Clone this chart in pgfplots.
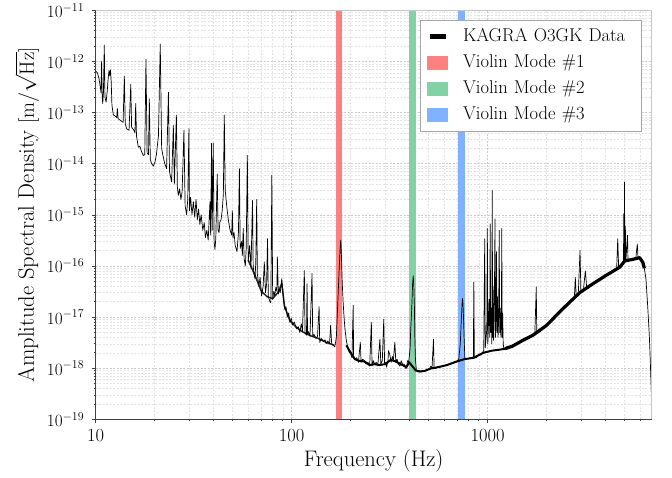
\documentclass[border=0pt]{standalone}
\usepackage{pgfplots}
\usepackage{pgfplotstable}
\pgfplotsset{compat=1.18}
\definecolor{vred}{RGB}{255,128,128}
\definecolor{vgreen}{RGB}{130,210,165}
\definecolor{vblue}{RGB}{128,178,255}

\pgfplotstableread{
f a
10.0 6.5e-13
10.2 6.0e-13
10.4 4.6e-13
10.55 3.2e-13
10.65 2.4e-13
10.72 1.0e-12
10.8 2.0e-13
10.86 1.5e-13
10.95 2.4e-13
11.06 2.1e-12
11.15 2.0e-13
11.3 1.6e-13
11.45 2.6e-13
11.6 5.0e-13
11.7 6.7e-13
11.8 5.2e-13
11.9 6.8e-13
12.0 4.0e-13
12.1 1.4e-13
12.3 9.0e-14
12.6 8.5e-14
12.8 8.0e-14
12.9 1.2e-13
13.0 7.6e-14
13.4 7.0e-14
13.8 6.4e-14
14.0 5.2e-13
14.15 6.0e-14
14.4 4.8e-14
14.8 4.5e-14
15.1 3.6e-13
15.25 5.2e-14
15.6 4.6e-14
15.86 4.0e-14
16.0 1.5e-13
16.15 3.5e-14
16.5 2.1e-14
16.8 2.2e-14
17.15 1.7e-14
17.5 1.45e-14
17.8 1.5e-14
18.05 1.1e-12
18.3 1.6e-14
18.6 1.5e-14
18.78 1.85e-13
19.0 1.2e-14
19.3 1.0e-14
19.7 9.0e-15
20.1 1.1e-14
20.4 1.5e-14
20.9 3.5e-14
21.35 2.2e-12
21.7 2.0e-14
22.0 1.5e-14
22.5 1.0e-14
23.0 8.0e-15
23.5 2.5e-13
23.8 7.0e-15
24.4 4.4e-15
24.9 5.6e-14
25.2 4.0e-15
25.8 8.9e-14
26.1 3.5e-15
26.4 2.4e-15
26.8 3.2e-15
27.2 2.0e-15
27.6 2.8e-15
28.2 4.5e-14
28.6 1.5e-15
29.1 1.0e-15
29.5 2.0e-15
29.9 4.8e-14
30.1 1.2e-15
30.5 2.2e-15
31.0 1.0e-15
31.5 1.8e-15
32.0 9.0e-16
32.5 2.0e-15
33.0 8.0e-16
33.5 1.3e-15
34.0 6.5e-16
34.5 1.0e-15
35.2 5.0e-16
35.8 7.0e-16
36.3 3.6e-16
36.9 5.0e-16
37.5 3.2e-16
38.3 1.8e-15
38.6 4.0e-16
39.0 2.5e-14
39.3 5.0e-16
39.8 2.5e-14
40.2 3.0e-16
40.6 2.1e-16
41.0 3.5e-16
41.7 6.3e-15
42.1 5.0e-16
42.6 4.5e-16
43.0 7.2e-16
43.6 8.0e-16
44.2 1.2e-15
44.8 2.5e-15
45.3 8.9e-14
45.8 3.0e-15
46.6 1.5e-15
47.5 8.0e-16
48.5 5.0e-16
49.4 4.0e-16
49.8 1.2e-15
50.2 3.5e-16
50.8 4.5e-16
51.5 2.5e-16
52.6 1.9e-16
53.5 4.5e-16
54.1 8.0e-15
54.6 2.2e-16
55.5 3.0e-16
56.0 1.6e-16
56.6 5.4e-16
57.2 1.4e-16
58.0 1.0e-16
58.6 2.2e-16
59.4 1.45e-14
60.0 1.2e-16
61.0 2.5e-16
62.0 9.0e-17
63.1 1.9e-15
63.6 1.0e-16
64.3 7.0e-17
65.0 5.6e-17
65.6 1.2e-16
66.3 2.0e-15
66.8 7.0e-17
68.0 4.0e-17
69.0 6.0e-17
70.2 2.6e-17
71.5 4.0e-17
72.5 1.2e-16
73.5 3.0e-17
74.5 4.5e-17
75.3 3.4e-16
76.0 2.5e-17
77.5 2.0e-17
78.3 1.9e-17
79.2 5.9e-15
80.0 2.2e-17
81.0 3.2e-17
82.0 2.6e-17
83.0 3.8e-17
84.0 3.2e-17
84.5 1.5e-16
85.5 2.8e-17
86.5 3.5e-17
87.4 3.0e-17
89.0 5.6e-17
90.0 3.5e-17
91.0 2.0e-17
92.3 1.4e-17
93.5 1.6e-17
95.0 1.0e-17
96.5 1.2e-17
97.9 7.9e-18
99.5 9.5e-18
101 7.0e-18
103 8.0e-18
106 5.9e-18
108 6.5e-18
110 5.0e-18
112 7.4e-18
113.5 5.2e-18
116 8.1e-17
117 5.0e-18
119 4.4e-18
119.8 4.5e-17
120.5 4.5e-18
122 5.2e-18
124 4.2e-18
127 7.1e-17
128 4.1e-18
130 4.6e-18
133 3.8e-18
135.5 4.2e-18
138 1.6e-17
139 3.2e-18
142 3.8e-18
145 3.3e-18
148 3.6e-18
150 3.0e-18
153 3.4e-18
156 3.0e-18
158 6.9e-18
160 3.0e-18
163 2.8e-18
166 2.6e-18
169 4.0e-18
172 2.0e-17
175 1.0e-16
177 2.5e-16
178 3.2e-16
179.5 1.5e-16
181 5.0e-17
183 2.0e-17
185 1.0e-17
187 5.9e-18
190 3.5e-18
194 2.4e-18
197 2.0e-18
200 2.0e-18
203 1.6e-18
206 1.7e-17
207 1.7e-18
210 1.5e-18
215 1.6e-18
219 1.3e-18
224 3.2e-18
226 1.3e-18
230 1.5e-18
235 1.4e-18
240 1.2e-18
245 1.3e-18
250 1.1e-18
255 7.9e-18
257 1.1e-18
261 1.4e-18
265 1.2e-18
270 1.3e-18
275 1.1e-18
282 3.7e-18
285 1.2e-18
290 1.4e-18
295 9.1e-18
298 1.2e-18
302 1.3e-18
305 1.05e-18
310 1.4e-18
312 2.2e-18
317 1.8e-18
322 1.3e-18
326 1.7e-18
330 1.4e-18
336 3.2e-18
340 1.3e-18
345 1.5e-18
350 1.2e-18
357 1.1e-18
362 1.4e-18
368 1.2e-18
375 1.2e-18
380 1.0e-18
386 1.0e-18
390 1.4e-18
395 1.3e-18
399 1.8e-18
402 2.5e-18
405 6.0e-18
408 1.0e-17
411 2.0e-17
414 4.5e-17
417 6.4e-17
420 4.0e-17
423 1.5e-17
425 4.0e-18
428 1.5e-18
433 8.9e-19
440 8.5e-19
447 9.0e-19
455 8.4e-19
465 8.8e-19
475 8.6e-19
485 9.2e-19
495 9.4e-19
505 9.5e-19
512 1.1e-18
520 1.0e-18
529 3.7e-18
533 1.0e-18
545 1.0e-18
560 1.05e-18
575 1.05e-18
590 1.1e-18
610 1.15e-18
630 1.2e-18
650 1.25e-18
670 1.3e-18
695 1.35e-18
712 1.5e-18
725 3.0e-18
733 8.0e-18
740 1.8e-17
744 2.3e-17
748 1.9e-17
753 1.0e-17
758 4.0e-18
765 1.6e-18
778 1.5e-18
800 1.55e-18
825 1.6e-18
845 1.6e-18
850 4.8e-17
855 1.6e-18
877 1.6e-18
895 1.8e-18
910 1.9e-18
925 1.8e-18
940 2.0e-18
955 2.2e-18
966 3.4e-16
972 2.5e-18
982 4.0e-18
990 6.0e-18
996 5.4e-16
1002 3.0e-18
1010 8.0e-18
1018 2.2e-17
1025 4.0e-18
1030 6.6e-16
1036 5.0e-18
1043 1.5e-17
1049 3.0e-18
1055 3.0e-15
1060 4.0e-18
1066 4.0e-17
1072 3.5e-18
1080 9.0e-18
1090 8.3e-16
1096 4.0e-18
1103 1.0e-17
1110 1.9e-16
1116 5.0e-18
1122 2.5e-17
1130 4.0e-18
1138 1.0e-17
1145 5.0e-16
1152 5.0e-18
1160 1.5e-17
1168 4.0e-18
1175 8.0e-18
1180 5.4e-16
1186 4.0e-18
1192 1.2e-17
1200 3.0e-18
1210 2.4e-18
1225 2.4e-18
1260 2.7e-18
1300 2.6e-18
1340 2.8e-18
1380 3.0e-18
1420 3.0e-18
1465 3.4e-18
1510 3.5e-18
1555 3.8e-18
1600 3.9e-18
1650 4.2e-18
1700 4.4e-18
1740 4.5e-18
1770 3.9e-17
1780 4.7e-18
1850 5.2e-18
1920 6.0e-18
2000 6.9e-18
2080 8.0e-18
2160 9.5e-18
2240 1.1e-17
2330 1.26e-17
2420 1.45e-17
2520 1.7e-17
2620 1.95e-17
2700 2.2e-17
2770 2.45e-17
2800 6.0e-17
2830 2.6e-17
2900 2.9e-17
2960 2.0e-16
2990 3.1e-17
3080 3.4e-17
3150 8.0e-17
3200 3.8e-17
3320 4.1e-17
3450 4.5e-17
3600 5.0e-17
3760 5.6e-17
3900 6.1e-17
4010 6.5e-17
4200 7.2e-17
4400 8.0e-17
4550 8.6e-17
4610 3.4e-16
4660 9.0e-17
4730 9.5e-17
4850 1.05e-16
4930 1.17e-16
4950 1.05e-15
4970 1.3e-16
4990 4.4e-15
5010 1.3e-16
5040 6.0e-16
5070 1.25e-16
5170 4.0e-16
5200 1.25e-16
5350 1.3e-16
5530 1.35e-16
5700 1.4e-16
5800 2.7e-16
5850 1.42e-16
5960 1.45e-16
6080 1.3e-16
6190 1.17e-16
6300 9.0e-17
6420 5.6e-17
6550 1.7e-17
6680 4.4e-18
6760 1.3e-18
6850 3.0e-19
}\asddata

\pgfplotstableread{
f a
60 1.3e-16
65 6.5e-17
70 3.2e-17
75 2.5e-17
80 2.3e-17
85 3.0e-17
89 4.5e-17
92 1.6e-17
98 8.5e-18
106 6.2e-18
115 5.0e-18
125 4.3e-18
135 3.9e-18
150 3.2e-18
165 2.8e-18
}\bandmid

\pgfplotstableread{
f a
190 2.8e-18
200 2.0e-18
210 1.5e-18
220 1.4e-18
235 1.35e-18
250 1.15e-18
265 1.2e-18
280 1.15e-18
300 1.2e-18
320 1.45e-18
340 1.35e-18
360 1.2e-18
385 1.05e-18
398 1.3e-18
430 9.0e-19
450 8.6e-19
480 8.9e-19
510 9.8e-19
560 1.05e-18
620 1.15e-18
695 1.35e-18
760 1.5e-18
850 1.6e-18
950 2.0e-18
1050 2.2e-18
1150 2.3e-18
1225 2.4e-18
}\bandlow

\pgfplotstableread{
f a
1225 2.4e-18
1340 2.7e-18
1510 3.5e-18
1700 4.4e-18
2000 6.9e-18
2330 1.26e-17
2620 1.95e-17
2950 3.0e-17
3450 4.5e-17
4010 6.5e-17
4730 9.5e-17
5000 1.25e-16
5530 1.35e-16
5960 1.45e-16
6190 1.17e-16
6300 9.0e-17
}\bandhigh

\begin{document}
\begin{tikzpicture}
\begin{axis}[
  name=ax,
  scale only axis, width=556bp, height=409bp,
  xmode=log, ymode=log,
  xmin=10, xmax=6870, ymin=1e-19, ymax=1e-11,
  xtick={10,100,1000}, xticklabels={10,100,1000},
  minor xtick={20,30,40,50,60,70,80,90,200,300,400,500,600,700,800,900,2000,3000,4000,5000,6000},
  ytick={1e-19,1e-18,1e-17,1e-16,1e-15,1e-14,1e-13,1e-12,1e-11},
  minor ytick={2e-19,3e-19,4e-19,5e-19,6e-19,7e-19,8e-19,9e-19,
               2e-18,3e-18,4e-18,5e-18,6e-18,7e-18,8e-18,9e-18,
               2e-17,3e-17,4e-17,5e-17,6e-17,7e-17,8e-17,9e-17,
               2e-16,3e-16,4e-16,5e-16,6e-16,7e-16,8e-16,9e-16,
               2e-15,3e-15,4e-15,5e-15,6e-15,7e-15,8e-15,9e-15,
               2e-14,3e-14,4e-14,5e-14,6e-14,7e-14,8e-14,9e-14,
               2e-13,3e-13,4e-13,5e-13,6e-13,7e-13,8e-13,9e-13,
               2e-12,3e-12,4e-12,5e-12,6e-12,7e-12,8e-12,9e-12},
  axis x line*=bottom, axis y line*=left,
  axis line style={-, black!75, line width=0.8bp},
  tick align=outside, major tick length=4bp, minor tick length=2bp,
  every tick/.style={black!75, line width=0.6bp},
  grid=both,
  major grid style={gray!40, dash pattern=on 2bp off 1.5bp, line width=0.5bp},
  minor grid style={gray!22, dash pattern=on 2bp off 1.5bp, line width=0.4bp},
  tick label style={font=\fontsize{18.6}{22}\selectfont},
  xticklabel style={yshift=-2.5bp},
  yticklabel style={xshift=-4bp},
  label style={font=\fontsize{22.6}{27}\selectfont},
  xlabel={Frequency (Hz)},
  ylabel={Amplitude Spectral Density $[\mathrm{m}/\sqrt{\mathrm{Hz}}]$},
  xlabel style={at={(axis description cs:0.5,0)}, anchor=center, yshift=-41.5bp},
  ylabel style={at={(axis description cs:-0.1236,0.5)}, anchor=center},
  legend cell align=left,
  legend style={at={(0.9826,0.9763)}, anchor=north east, draw=gray!70, line width=0.6bp, fill=white,
    inner xsep=6.7bp, inner ysep=7.75bp, row sep=8.5bp, column sep=15bp,
    font=\fontsize{18.6}{22}\selectfont,
    nodes={inner sep=0pt, text height=13bp, text depth=4.5bp},
    /tikz/every even column/.append style={text width=172bp}},
]
\addplot[fill=vred, draw=none, forget plot] coordinates {(168,1e-19) (168,1e-11) (180,1e-11) (180,1e-19)};
\addplot[fill=vgreen, draw=none, forget plot] coordinates {(395,1e-19) (395,1e-11) (431,1e-11) (431,1e-19)};
\addplot[fill=vblue, draw=none, forget plot] coordinates {(705,1e-19) (705,1e-11) (766,1e-11) (766,1e-19)};
\addplot[black!85, line width=1.5bp, line join=round, forget plot] table[x=f, y=a] {\bandmid};
\addplot[black, line width=2bp, line join=round, forget plot] table[x=f, y=a] {\bandlow};
\addplot[black, line width=3.2bp, line join=round, forget plot] table[x=f, y=a] {\bandhigh};
\addplot[black, line width=0.7bp, line join=round, forget plot] table[x=f, y=a] {\asddata};
\addlegendimage{legend image code/.code={\fill[black] (2.5bp,-2bp) rectangle (17.5bp,2bp);}}
\addlegendentry{KAGRA O3GK Data}
\addlegendimage{legend image code/.code={\fill[vred] (0bp,-6.5bp) rectangle (20bp,6.5bp);}}
\addlegendentry{Violin Mode \#1}
\addlegendimage{legend image code/.code={\fill[vgreen] (0bp,-6.5bp) rectangle (20bp,6.5bp);}}
\addlegendentry{Violin Mode \#2}
\addlegendimage{legend image code/.code={\fill[vblue] (0bp,-6.5bp) rectangle (20bp,6.5bp);}}
\addlegendentry{Violin Mode \#3}
\end{axis}
\draw[gray!45, line width=0.8bp] (ax.north west) -- (ax.north east) -- (ax.south east);
\path (ax.south west) ++(-95.7bp,-58.7bp);
\path (ax.north east) ++(20.3bp,8.3bp);
\end{tikzpicture}
\end{document}
